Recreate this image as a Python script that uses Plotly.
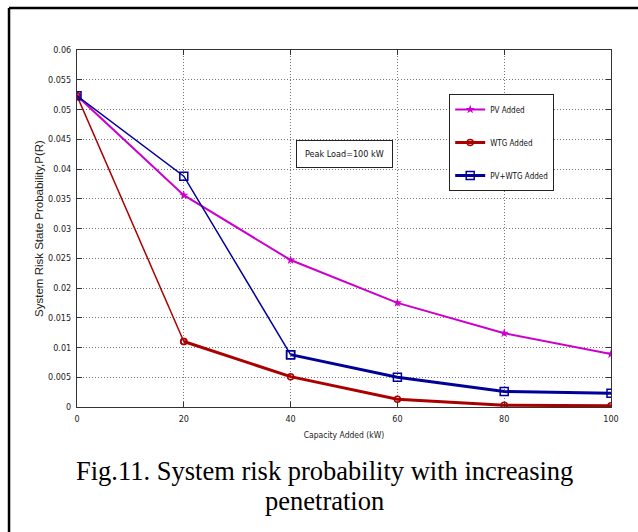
import plotly.graph_objects as go

capacity = [0, 20, 40, 60, 80, 100]
pv_added = [0.0523, 0.0356, 0.0247, 0.0175, 0.0124, 0.0089]
wtg_added = [0.0523, 0.0110, 0.0051, 0.0013, 0.0003, 0.0002]
pvwtg_added = [0.0523, 0.0388, 0.0088, 0.0050, 0.0026, 0.0023]

y_ticks = [0, 0.005, 0.01, 0.015, 0.02, 0.025, 0.03, 0.035, 0.04, 0.045, 0.05, 0.055, 0.06]
y_tick_text = ["0", "0.005", "0.01", "0.015", "0.02", "0.025", "0.03", "0.035", "0.04", "0.045", "0.05", "0.055", "0.06"]
x_ticks = [0, 20, 40, 60, 80, 100]

PINK = "#cc00cc"
RED = "#aa0000"
BLUE = "#000099"
TICKFONT = "Liberation Sans Narrow, Arial Narrow, DejaVu Sans Condensed, Liberation Sans, Arial"
GRIDDASH = "1px,2px"

fig = go.Figure()

# PV Added
fig.add_trace(go.Scatter(x=capacity, y=pv_added, mode="lines+markers", name="PV Added",
                         line=dict(color=PINK, width=2),
                         marker=dict(symbol="star", size=7, color=PINK),
                         legendgroup="pv"))
# WTG Added (thin first segment, thick remainder)
fig.add_trace(go.Scatter(x=capacity[:2], y=wtg_added[:2], mode="lines+markers", name="WTG Added",
                         line=dict(color=RED, width=1.5),
                         marker=dict(symbol="circle-open", size=6, color=RED, line=dict(width=1.5)),
                         legendgroup="wtg", showlegend=False))
fig.add_trace(go.Scatter(x=capacity[1:], y=wtg_added[1:], mode="lines+markers", name="WTG Added",
                         line=dict(color=RED, width=3),
                         marker=dict(symbol="circle-open", size=6, color=RED, line=dict(width=1.5)),
                         legendgroup="wtg", showlegend=True))
# PV+WTG Added
fig.add_trace(go.Scatter(x=capacity[:3], y=pvwtg_added[:3], mode="lines+markers", name="PV+WTG Added",
                         line=dict(color=BLUE, width=1.5),
                         marker=dict(symbol="square-open", size=8, color=BLUE, line=dict(width=1.5)),
                         legendgroup="pvwtg", showlegend=False))
fig.add_trace(go.Scatter(x=capacity[2:], y=pvwtg_added[2:], mode="lines+markers", name="PV+WTG Added",
                         line=dict(color=BLUE, width=3),
                         marker=dict(symbol="square-open", size=8, color=BLUE, line=dict(width=1.5)),
                         legendgroup="pvwtg", showlegend=True))

fig.update_xaxes(range=[0, 100], tickvals=x_ticks, ticks="inside", ticklen=5, tickcolor="#333",
                 showline=True, linecolor="#333", linewidth=1, mirror="ticks",
                 showgrid=True, gridcolor="#777", griddash=GRIDDASH, gridwidth=1, zeroline=False,
                 tickfont=dict(family=TICKFONT, size=9, color="#222"), ticklabelstandoff=3,
                 title=dict(text="Capacity Added (kW)", font=dict(family=TICKFONT, size=8.5, color="#222"),
                            standoff=9))
fig.update_yaxes(range=[0, 0.06], tickvals=y_ticks, ticktext=y_tick_text, ticks="inside", ticklen=5,
                 tickcolor="#333", showline=True, linecolor="#333", linewidth=1, mirror="ticks",
                 showgrid=True, gridcolor="#777", griddash=GRIDDASH, gridwidth=1, zeroline=False,
                 tickfont=dict(family=TICKFONT, size=9, color="#222"), ticklabelstandoff=3,
                 title=dict(text="System Risk State Probability,P(R)",
                            font=dict(family="Liberation Sans, Arial", size=11.5, color="#222"),
                            standoff=1))

fig.add_annotation(x=50, y=0.0426, xref="x", yref="y", text="Peak Load=100 kW", showarrow=False,
                   font=dict(family=TICKFONT, size=9, color="#111"),
                   bordercolor="#222", borderwidth=1, borderpad=8, bgcolor="white")

fig.add_annotation(x=(324 - 77) / 534, y=(407 - 471) / 357, xref="paper", yref="paper",
                   xanchor="center", yanchor="middle",
                   text="Fig.11. System risk probability with increasing", showarrow=False,
                   font=dict(family="Liberation Serif, Times New Roman", size=26.5, color="black"))
fig.add_annotation(x=(324 - 77) / 534, y=(407 - 501) / 357, xref="paper", yref="paper",
                   xanchor="center", yanchor="middle",
                   text="penetration", showarrow=False,
                   font=dict(family="Liberation Serif, Times New Roman", size=26.5, color="black"))

# outer frame (left and top edges)
fig.add_shape(type="line", xref="paper", yref="paper", x0=-0.1273, x1=-0.1273, y0=1.1176, y1=-0.35,
              line=dict(color="black", width=2.5))
fig.add_shape(type="line", xref="paper", yref="paper", x0=-0.1273, x1=(640 - 77) / 534, y0=1.1176, y1=1.1176,
              line=dict(color="black", width=2.5))

fig.update_layout(
    width=638, height=532,
    margin=dict(l=77, r=27, t=50, b=125),
    paper_bgcolor="white", plot_bgcolor="white",
    showlegend=True,
    legend=dict(x=0.697, y=0.877, xanchor="left", yanchor="top",
                bordercolor="#222", borderwidth=1, bgcolor="white",
                font=dict(family=TICKFONT, size=8, color="#111"),
                tracegroupgap=14, itemwidth=30),
)

fig.write_html(
    "out.html",
    config={"displayModeBar": False},
    post_script="document.documentElement.style.overflow='hidden';document.body.style.overflow='hidden';",
)
